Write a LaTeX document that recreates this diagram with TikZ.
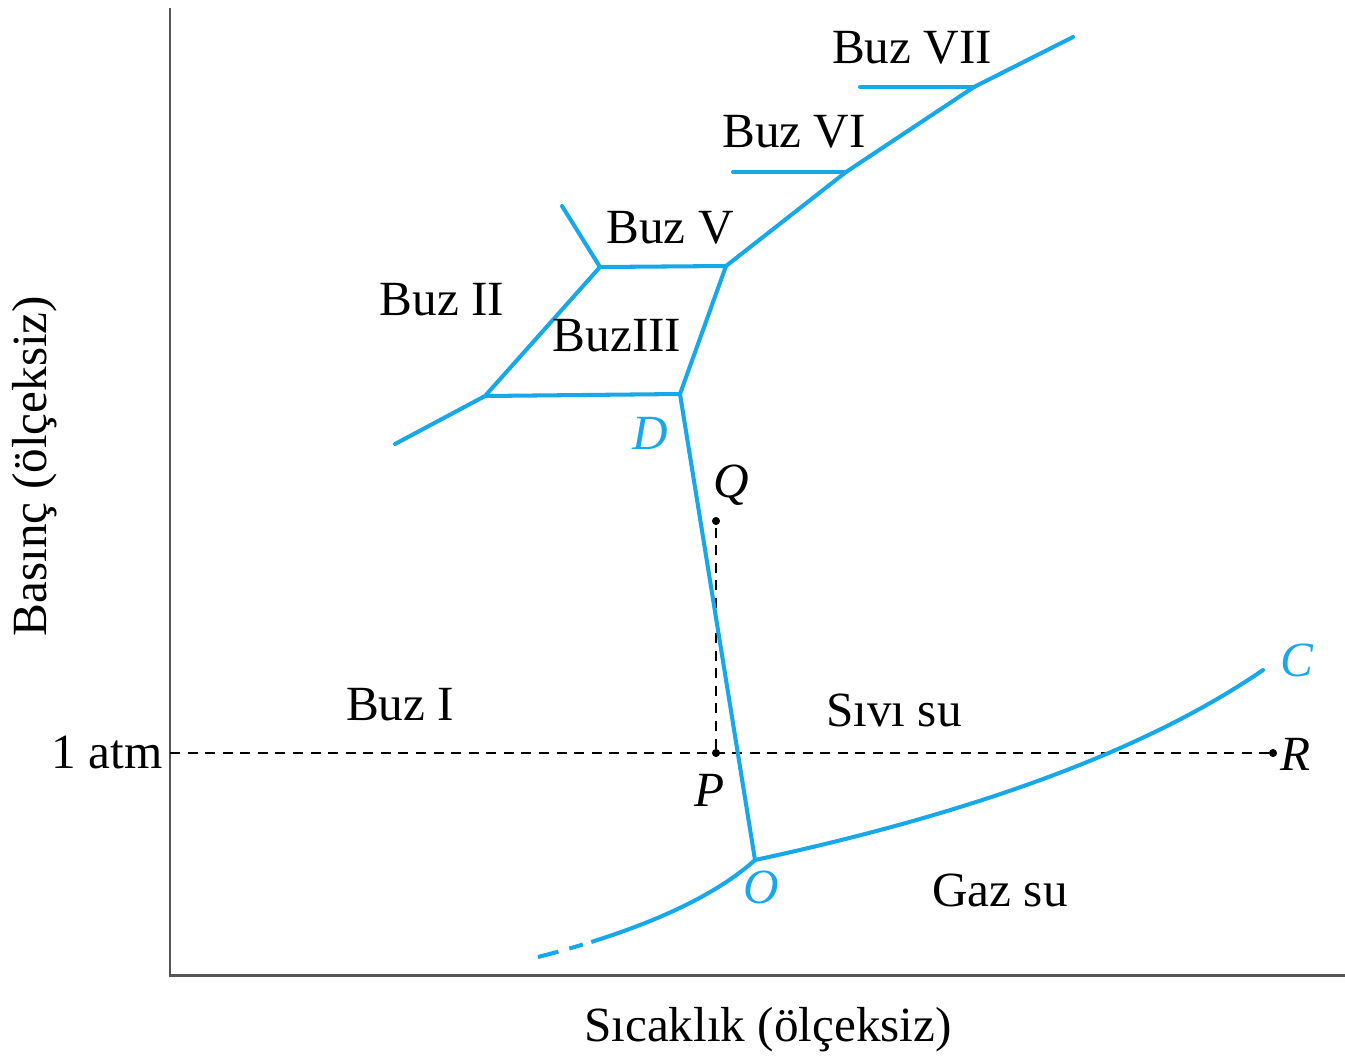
\documentclass[tikz,border=0pt]{standalone}
\usepackage{fontspec}
\setmainfont{Liberation Serif}
\definecolor{iceblue}{RGB}{22,168,232}
\definecolor{axisgray}{RGB}{85,85,85}
\begin{document}
\begin{tikzpicture}[x=0.02cm,y=-0.02cm,
  phase/.style={line width=2.3pt, draw=iceblue, line cap=round, line join=round},
  axisline/.style={line width=1.7pt, draw=axisgray},
  dashline/.style={line width=0.85pt, draw=black, dash pattern=on 5.7pt off 4.3pt},
  lbl/.style={font=\fontsize{28}{30}\selectfont, inner sep=0pt},
  ptlbl/.style={font=\fontsize{28}{30}\selectfont\itshape, inner sep=0pt},
  bluelbl/.style={ptlbl, text=iceblue},
  dotpt/.style={circle, fill=black, inner sep=0pt, minimum size=4.6pt}]
\useasboundingbox (0,0) rectangle (1345,1059);
% axes
\coordinate (ytop) at (170,8);
\coordinate (orig) at (170,975);
\coordinate (xend) at (1345,975);
\draw[axisline] (ytop) -- (orig) -- (xend);
% vertices
\coordinate (O) at (755,860);
\coordinate (D) at (680,394);
\coordinate (B3r) at (726,266);
\coordinate (B3l) at (600,267);
\coordinate (B2) at (485,396);
\coordinate (B2end) at (395,444);
\coordinate (B5end) at (562,206);
\coordinate (V6) at (846,172);
\coordinate (V6end) at (733,172);
\coordinate (V7) at (974,87);
\coordinate (V7end) at (860,87);
\coordinate (top) at (1073,37);
\coordinate (Cend) at (1263,670);
\coordinate (Lend) at (538,957);
% points
\node[dotpt] (P) at (716,753) {};
\node[dotpt] (Q) at (716,521) {};
\node[dotpt] (R) at (1273,753) {};
\coordinate (atm) at (170,753);
% dashed lines
\draw[dashline] (atm) -- (R);
\draw[dashline] (P) -- (Q);
% phase boundaries
\draw[phase] (D) -- (O);
\draw[phase] (O) .. controls (950,818) and (1135,758) .. (Cend);
\draw[phase, line cap=butt, dash pattern=on 12pt off 6.5pt on 8pt off 5pt on 400pt]
  (Lend) .. controls (620,936) and (705,905) .. (O);
\draw[phase] (B2end) -- (B2) -- (D) -- (B3r) -- (B3l) -- (B2);
\draw[phase] (B5end) -- (B3l);
\draw[phase] (B3r) -- (V6) -- (V7) -- (top);
\draw[phase] (V6end) -- (V6);
\draw[phase] (V7end) -- (V7);
% labels
\node[lbl] (lb7) at (912,48) {Buz VII};
\node[lbl] (lb6) at (794,132) {Buz VI};
\node[lbl] (lb5) at (670,228) {Buz V};
\node[lbl] (lb2) at (442,300) {Buz II};
\node[lbl] (lb3) at (617,336) {BuzIII};
\node[lbl] (lb1) at (400,705) {Buz I};
\node[lbl] (lbl) at (894,710) {Sıvı su};
\node[lbl] (lbg) at (1000,890) {Gaz su};
\node[lbl, anchor=east] (lbatm) at (163,752) {1 atm};
\node[lbl, rotate=90] (ylab) at (35,466) {Basınç (ölçeksiz)};
\node[lbl] (xlab) at (768,1030) {Sıcaklık (ölçeksiz)};
\node[bluelbl] (lD) at (650,433) {D};
\node[bluelbl] (lO) at (761,887) {O};
\node[bluelbl] (lC) at (1297,660) {C};
\node[ptlbl] (lQ) at (731,485) {Q};
\node[ptlbl] (lP) at (710,790) {P};
\node[ptlbl] (lR) at (1296,754) {R};
\end{tikzpicture}
\end{document}
